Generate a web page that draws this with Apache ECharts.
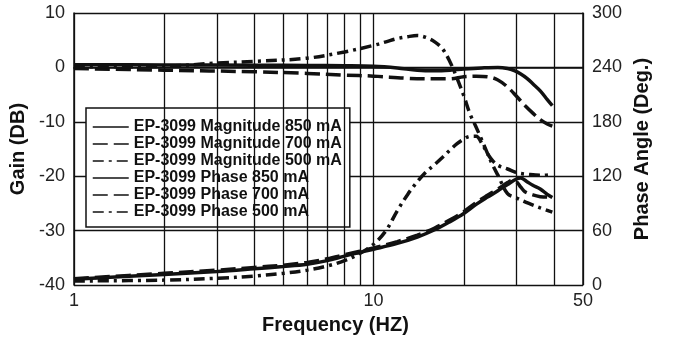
<!DOCTYPE html>
<html>
<head>
<meta charset="utf-8">
<script src="https://cdn.jsdelivr.net/npm/echarts@6/dist/echarts.min.js"></script>
<style>
  html, body { margin: 0; padding: 0; background: #fff; }
  #chart { width: 683px; height: 340px; }
</style>
</head>
<body>
<div id="chart"></div>
<script>
// ---- Data ----
const legendNames = [
  'EP-3099 Magnitude 850 mA',
  'EP-3099 Magnitude 700 mA',
  'EP-3099 Magnitude 500 mA',
  'EP-3099 Phase 850 mA',
  'EP-3099 Phase 700 mA',
  'EP-3099 Phase 500 mA'
];

// Magnitude (dB) vs frequency (Hz)
const mag850Freq = [1, 2, 4, 6, 8, 10, 12, 14, 16, 18, 20, 23, 26, 28, 29.5, 31, 32.5, 34, 36, 38, 39.5];
const mag850Gain = [0.5, 0.45, 0.4, 0.35, 0.3, 0.2, -0.1, -0.5, -0.6, -0.5, -0.3, -0.1, 0, -0.2, -0.6, -1.2, -2.0, -3.0, -4.3, -5.9, -7.0];

const mag700Freq = [1, 2, 4, 6, 8, 10, 13, 16, 18, 20, 22, 24, 26, 28, 30, 32, 34, 36, 38, 39.5];
const mag700Gain = [-0.2, -0.5, -0.8, -1.1, -1.4, -1.6, -2.0, -2.1, -2.1, -1.7, -1.6, -1.7, -2.3, -3.6, -5.3, -7.0, -8.4, -9.6, -10.4, -10.8];

const mag500Freq = [1, 2, 3, 4, 6, 8, 10, 11, 12, 13, 14, 15, 16, 17, 18, 19, 20, 21, 22, 23, 24, 25, 26, 28, 30, 33, 36, 39.5];
const mag500Gain = [0.1, 0.2, 0.8, 1.1, 1.7, 2.85, 4.05, 4.7, 5.3, 5.65, 5.85, 5.5, 4.7, 3.4, 1.0, -2.0, -5.2, -8.6, -11.0, -13.4, -15.8, -18.0, -19.8, -23.2, -24.0, -25.0, -25.8, -26.6];

// Phase (deg) vs frequency (Hz)
const ph850Freq = [1, 2, 3, 4, 5, 6, 7, 8, 9, 10, 12, 14, 16, 18, 20, 22, 24, 26, 28, 30, 31, 32.5, 34, 36, 38, 39.5];
const ph850Deg  = [6.4, 11.8, 15, 18, 20.5, 23, 27, 32, 36, 39.5, 46, 53, 61, 70, 79, 89, 97, 104, 111, 117, 118, 114, 110, 106, 100, 96.5];

const ph700Freq = [1, 2, 3, 4, 5, 6, 7, 8, 9, 10, 12, 14, 16, 18, 20, 22, 24, 26, 28, 29, 30, 31, 32, 34, 36, 38, 39.5];
const ph700Deg  = [7, 13, 16.5, 19.5, 22, 25, 29, 33.5, 37.5, 41, 48, 55, 63, 72, 81, 91, 99, 106, 113, 115.5, 114, 108, 103, 99.5, 97.5, 97, 97.5];

const ph500Freq = [1, 2, 3, 4, 5, 6, 7, 8, 9, 10, 11, 12, 13, 14, 15, 16, 17, 18, 19, 20, 21, 22, 23, 24, 25, 26, 28, 30, 33, 36, 39.5];
const ph500Deg  = [4.5, 5.5, 7.5, 10, 13, 16.5, 21, 27, 35, 45, 60, 82, 100, 114, 125, 133, 141, 149, 156, 161, 164, 164, 156, 145, 137, 132, 128, 124, 122, 121, 122];

// Axes
const freqMin = 1, freqMax = 50;
const minorFreqLines = [2, 3, 4, 5, 6, 7, 8, 9, 20, 30, 40];
const gainMin = -40, gainMax = 10, gainStep = 10;
const phaseMin = 0, phaseMax = 300, phaseStep = 60;

// ---- Chart ----
const FONT = 'Liberation Sans, Arial, Helvetica, sans-serif';
const INK = '#111';
const dashDot = [11, 5, 3, 5];
const dashed = [15, 6];

function pairs(xs, ys) { return xs.map((x, i) => [x, ys[i]]); }

function lineSeries(name, xs, ys, yIndex, type) {
  return {
    name: name,
    type: 'line',
    yAxisIndex: yIndex,
    data: pairs(xs, ys),
    symbol: 'none',
    showSymbol: false,
    smooth: 0.35,
    z: 3,
    lineStyle: { color: INK, width: 3.5, type: type },
    itemStyle: { color: INK }
  };
}

const chart = echarts.init(document.getElementById('chart'), null, { renderer: 'canvas' });

chart.setOption({
  animation: false,
  backgroundColor: '#fff',
  textStyle: { fontFamily: FONT },
  grid: { left: 72, right: 100, top: 13, bottom: 47 },
  legend: {
    data: legendNames,
    orient: 'vertical',
    left: 86,
    top: 108,
    padding: [11, 8, 7, 6],
    itemGap: 1,
    itemWidth: 36,
    itemHeight: 16,
    borderColor: INK,
    borderWidth: 1.5,
    backgroundColor: '#fff',
    itemStyle: { color: 'rgba(0,0,0,0)', borderWidth: 0, opacity: 0 },
    lineStyle: { width: 1.5 },
    textStyle: { fontSize: 16, fontWeight: 'bold', color: INK, fontFamily: FONT }
  },
  xAxis: {
    type: 'log',
    logBase: 10,
    min: freqMin,
    max: freqMax,
    name: 'Frequency (HZ)',
    nameLocation: 'middle',
    nameGap: 24,
    nameTextStyle: { fontSize: 20, fontWeight: 'bold', color: INK, fontFamily: FONT, padding: [0, 0, 0, 14] },
    axisLine: { lineStyle: { color: INK, width: 1.5 } },
    axisTick: { show: false },
    axisLabel: { fontSize: 18, color: '#222', margin: 7, fontFamily: FONT, showMaxLabel: true, showMinLabel: true },
    splitLine: { show: true, lineStyle: { color: INK, width: 1.3 } }
  },
  yAxis: [
    {
      type: 'value',
      min: gainMin,
      max: gainMax,
      interval: gainStep,
      name: 'Gain (DB)',
      nameLocation: 'middle',
      nameRotate: 90,
      nameGap: 39,
      nameTextStyle: { fontSize: 20, fontWeight: 'bold', color: INK, fontFamily: FONT },
      axisLine: { show: true, lineStyle: { color: INK, width: 1.5 } },
      axisTick: { show: false },
      axisLabel: { fontSize: 18, color: '#222', margin: 9, fontFamily: FONT },
      splitLine: { show: true, lineStyle: { color: INK, width: 1.3 } }
    },
    {
      type: 'value',
      min: phaseMin,
      max: phaseMax,
      interval: phaseStep,
      position: 'right',
      name: 'Phase Angle (Deg.)',
      nameLocation: 'middle',
      nameRotate: 90,
      nameGap: 49,
      nameTextStyle: { fontSize: 20, fontWeight: 'bold', color: INK, fontFamily: FONT },
      axisLine: { show: true, lineStyle: { color: INK, width: 1.5 } },
      axisTick: { show: false },
      axisLabel: { fontSize: 18, color: '#222', margin: 9, fontFamily: FONT },
      splitLine: { show: false }
    }
  ],
  series: [
    {
      name: 'minor-grid',
      type: 'line',
      data: [],
      z: 1,
      silent: true,
      markLine: {
        silent: true,
        symbol: ['none', 'none'],
        label: { show: false },
        animation: false,
        lineStyle: { color: INK, width: 1.3, type: 'solid' },
        data: minorFreqLines.map(f => ({ xAxis: f }))
      }
    },
    lineSeries(legendNames[0], mag850Freq, mag850Gain, 0, 'solid'),
    lineSeries(legendNames[1], mag700Freq, mag700Gain, 0, dashed),
    lineSeries(legendNames[2], mag500Freq, mag500Gain, 0, dashDot),
    lineSeries(legendNames[3], ph850Freq, ph850Deg, 1, 'solid'),
    lineSeries(legendNames[4], ph700Freq, ph700Deg, 1, dashed),
    lineSeries(legendNames[5], ph500Freq, ph500Deg, 1, dashDot)
  ]
});
</script>
</body>
</html>
